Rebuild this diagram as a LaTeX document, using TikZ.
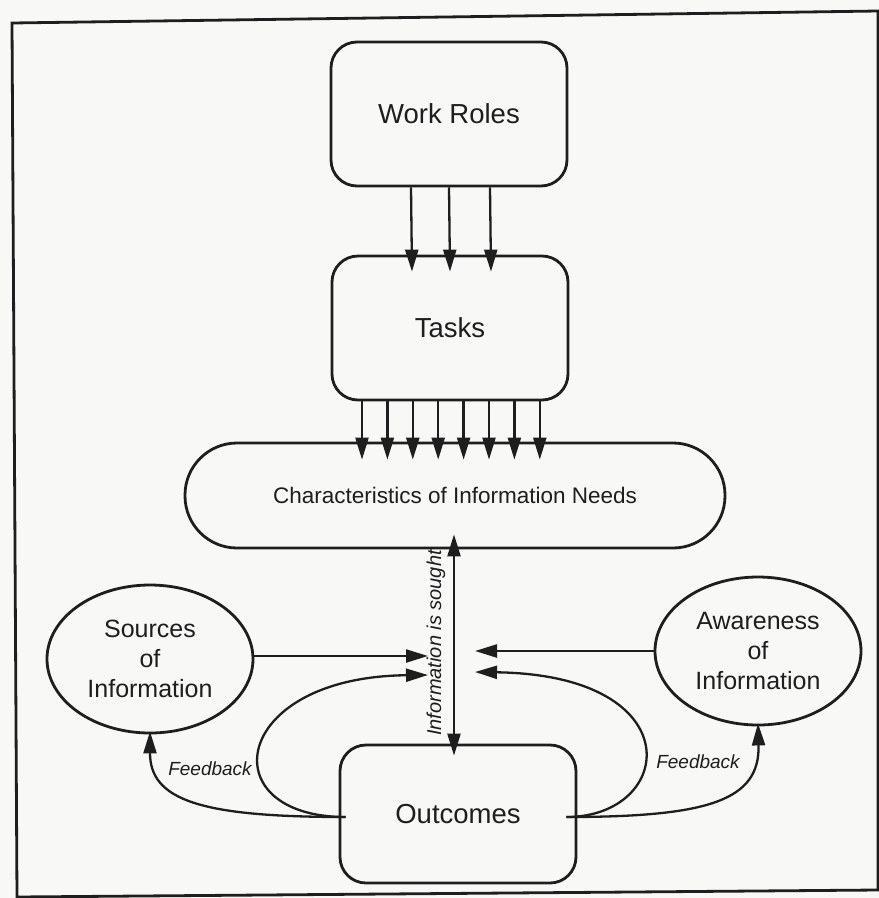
\documentclass[tikz,border=0pt]{standalone}
\usepackage{fontspec}
\setmainfont{Liberation Sans}
\usetikzlibrary{arrows.meta,calc,shapes.geometric}

\definecolor{paper}{RGB}{248,248,246}
\definecolor{ink}{RGB}{30,30,30}

\begin{document}
\begin{tikzpicture}[x=1pt,y=-1pt,
  outline/.style={draw=ink, line width=2.8pt},
  box/.style={outline, rectangle, rounded corners=26pt, minimum width=236pt,
    minimum height=144pt, inner sep=0pt, text=ink,
    font=\fontsize{27.5}{33}\selectfont},
  pill/.style={outline, rectangle, rounded corners=52pt, minimum width=540pt,
    minimum height=105pt, inner sep=0pt, text=ink,
    font=\fontsize{22.5}{27}\selectfont},
  oval/.style={outline, ellipse, minimum width=206pt, minimum height=148pt,
    inner sep=0pt, align=center, text=ink,
    font=\fontsize{25}{30}\selectfont},
  tip/.tip={Triangle[length=22pt,width=13pt]},
  flow/.style={draw=ink, line width=2.3pt, -tip},
  both/.style={draw=ink, line width=2.3pt, tip-tip},
  note/.style={text=ink, inner sep=0pt, font=\itshape\fontsize{19}{23}\selectfont}
]
% page and frame
\fill[paper] (0,0) rectangle (879,898);
\useasboundingbox (0,0) rectangle (879,898);
\draw[draw=ink, line width=2.8pt] (12,23) -- (878,11) -- (878,890) -- (17,897) -- cycle;

% nodes
\node[box] (wr) at (449,114) {Work Roles};
\node[box] (tk) at (450,328) {Tasks};
\node[pill] (ch) at (455,495.5) {Characteristics of Information Needs};
\node[oval] (src) at (150,659) {Sources\\of\\Information};
\node[oval] (aw) at (758,651) {Awareness\\of\\Information};
\node[box, minimum height=138pt] (oc) at (458,814) {Outcomes};

% work roles -> tasks
\foreach \dx in {-38,0,41}
  \draw[flow] ($(wr.south)+(\dx,0)$) -- ($(tk.north)+(\dx,17)$);

% tasks -> characteristics of information needs
\foreach \i in {0,...,7}
  \draw[flow] ($(tk.south)+(-88+25.4*\i,0)$) -- ($(ch.north)+(-93+25.4*\i,18)$);

% information is sought
\draw[both] ($(ch.south)+(-1,-15)$) -- ($(oc.north)+(-4,12)$);
\node[note, rotate=90, font=\itshape\fontsize{20}{24}\selectfont] (sought) at (436,643) {Information is sought};

% inputs meeting the search
\coordinate (inL1) at (428,656);
\coordinate (inL2) at (428,675);
\coordinate (inR1) at (475,651);
\coordinate (inR2) at (475,672);
\draw[flow] (src.east |- inL1) -- (inL1);
\draw[flow] (aw.west |- inR1) -- (inR1);

% loops and feedback from outcomes
\coordinate (oL) at ($(oc.west)+(7,3)$);
\coordinate (oR) at ($(oc.east)+(-11,3)$);
\draw[flow] (oL) .. controls (210,817) and (230,677) .. (inL2);
\draw[flow] (oR) .. controls (675,817) and (693,675) .. (inR2);
\draw[flow] (oL) .. controls (200,817) and (150,800) .. ($(src.south)+(0,-3)$);
\draw[flow] (oR) .. controls (710,817) and (760,800) .. ($(aw.south)+(0,-3)$);

\node[note] (fbL) at (210,769) {Feedback};
\node[note] (fbR) at (698,762) {Feedback};
\end{tikzpicture}
\end{document}
